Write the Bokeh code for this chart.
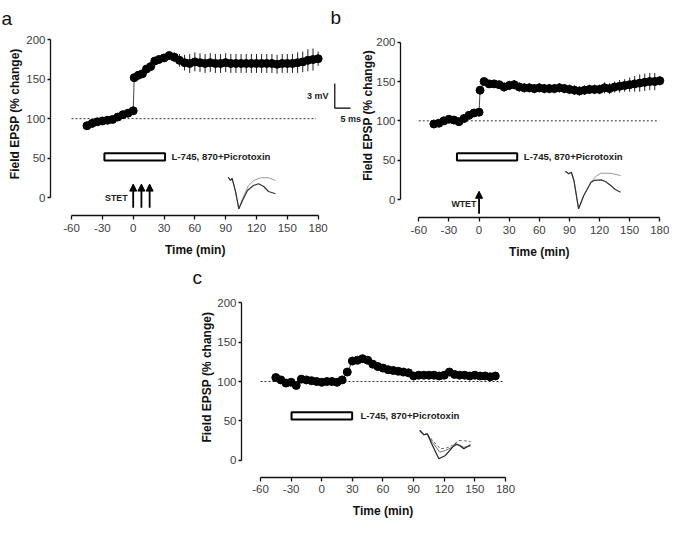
import math
import numpy as np
from bokeh.plotting import figure
from bokeh.models import Range1d, FixedTicker, Label, Arrow, NormalHead, LinearAxis
from bokeh.embed import file_html
from bokeh.resources import INLINE

FONT = "Liberation Sans"

x_ticks = [-60, -30, 0, 30, 60, 90, 120, 150, 180]
x_tick_labels = ["-60", "-30", "0", "30", "60", "90", "120", "150", "180"]
y_ticks = [0, 50, 100, 150, 200]
y_tick_labels = ["0", "50", "100", "150", "200"]
x_title = "Time (min)"
y_title = "Field EPSP (% change)"
drug_label = "L-745, 870+Picrotoxin"
baseline_level = 100
baseline_extent = [-60, 178]

# ---------------- panel a ----------------
time_a = [-45, -40, -35, -30, -25, -20, -15, -10, -5, 0,
          1, 5, 9, 13, 17, 21, 25, 30, 35, 40, 45, 50, 55, 60, 65, 70, 75, 80,
          85, 90, 95, 100, 105, 110, 115, 120, 125, 130, 135, 140, 145, 150,
          155, 160, 165, 170, 175, 180]
fepsp_a = [91, 94, 96, 97, 98, 99, 102, 105, 107, 110,
           152, 155, 157, 163, 166, 173, 175, 177, 180, 178, 174, 171, 170, 172,
           171, 170, 171, 170, 170, 171, 170, 170, 170, 170, 170, 170, 170, 170,
           170, 169, 170, 170, 170, 171, 172, 174, 175, 176]
sem_a = [2, 2, 2, 2, 2, 2, 2, 2, 2, 2,
         3, 3, 3, 3, 3, 4, 4, 4, 5, 6, 8, 10, 12, 12, 12, 12, 12, 12,
         12, 12, 12, 12, 12, 12, 12, 12, 12, 12, 12, 12, 12, 12,
         12, 13, 13, 14, 14, 9]
drug_a = [-28, 31, 47, 56]          # start, end (min), bar bottom, bar top
stet_times = [0, 8, 16]
trace_a_black_t = [92.5, 94.7, 96.3, 99.5, 102.8, 106.4, 111.2, 117, 122, 127, 131.7, 138.5]
trace_a_black_v = [25.7, 21.6, 24.1, 8, -14.3, -3.8, 8.9, 15.2, 17.4, 14, 7.6, 4.7]
trace_a_gray_t = [92.5, 94.7, 96.3, 99.5, 102.8, 106.4, 112.2, 117.4, 123.9, 131.7, 138.5]
trace_a_gray_v = [25.7, 21.6, 24.1, 8, -14.3, -1.3, 15.2, 21.6, 25, 25, 21.6]
scale_bar_t = [196.2, 196.2, 211.5]
scale_bar_v = [144.6, 113.3, 113.3]

# ---------------- panel b ----------------
time_b = [-45, -40, -35, -30, -25, -20, -15, -10, -5, 0,
          1, 5, 10, 15, 20, 25, 30, 35, 40, 45, 50, 55, 60, 65, 70, 75, 80,
          85, 90, 95, 100, 105, 110, 115, 120, 125, 130, 135, 140, 145, 150,
          155, 160, 165, 170, 175, 180]
fepsp_b = [96, 97, 100, 102, 101, 99, 103, 107, 110, 111,
           139, 150, 147, 147, 146, 143, 145, 146, 143, 142, 142, 141, 142, 141,
           141, 141, 142, 141, 140, 139, 138, 139, 140, 140, 140, 142, 141, 143,
           144, 145, 146, 147, 148, 149, 150, 150, 151]
sem_b = [2, 2, 2, 2, 2, 2, 2, 2, 2, 2,
         3, 4, 5, 5, 5, 6, 6, 6, 6, 6, 6, 6, 6, 6, 6, 6, 6,
         6, 6, 6, 6, 6, 6, 6, 6, 7, 7, 7, 8, 8, 9,
         10, 11, 11, 11, 11, 6]
drug_b = [-22, 38, 49.6, 58.9]
wtet_times = [0]
trace_b_black_t = [86, 89.3, 91.9, 94.5, 99.1, 104.3, 111.5, 114.8, 121.3, 125.9, 131.1, 135.7, 140.9]
trace_b_black_v = [36, 32.7, 34.7, 24.2, -11.8, 5.1, 22, 24.2, 25, 22.9, 17.8, 12.7, 9.3]
trace_b_gray_t = [86, 89.3, 91.9, 94.5, 99.1, 104.3, 111.5, 116.1, 121.3, 130.8, 140.9]
trace_b_gray_v = [36, 32.7, 34.7, 24.2, -11.8, 5.1, 22, 29.2, 33.4, 33.4, 30.5]

# ---------------- panel c ----------------
time_c = [-45, -40, -35, -30, -25, -20, -15, -10, -5, 0, 5, 10, 15, 20, 25,
          30, 35, 40, 45, 50, 55, 60, 65, 70, 75, 80, 85, 90, 95, 100, 105,
          110, 115, 120, 125, 130, 135, 140, 145, 150, 155, 160, 165, 170]
fepsp_c = [105, 102, 98, 99, 95, 103, 102, 101, 100, 99, 100, 100, 99, 102, 112,
           126, 127, 129, 127, 122, 119, 117, 115, 114, 113, 112, 111, 107, 108, 108, 108,
           108, 107, 108, 112, 109, 108, 108, 107, 108, 107, 107, 106, 107]
drug_c = [-29.6, 29.8, 51.7, 61]
trace_c_black_t = [96, 100, 103.3, 108.5, 114.7, 121.2, 127.8, 131, 135, 139.2, 145.7]
trace_c_black_v = [37.7, 32.3, 33.5, 18.7, 1.8, 6, 16.1, 20.8, 18.7, 14.5, 19.6]
trace_c_gray_t = [96, 100, 103.3, 108.5, 115.6, 121.2, 127.8, 133, 139.2, 145.7]
trace_c_gray_v = [37.7, 32.3, 33.5, 22.5, 10.2, 12.3, 16.5, 20, 16.5, 17.8]
trace_c_dash_t = [96, 100, 103.3, 108.5, 116.3, 122.2, 128, 134.3, 139.8, 145.7]
trace_c_dash_v = [37.7, 32.3, 33.5, 25, 14.5, 15.5, 18.7, 25, 24.7, 23.8]

# ---------------- layout (canvas pixels) ----------------
W, H = 669, 518
# canvas_x = x0 + sx * time ; canvas_y = y0 - sy * value
geo = {
    "a": dict(x0=132.7, sx=1.0275, y0=197.0, sy=0.7885, yaxis_px=50.0, xaxis_px=215.0),
    "b": dict(x0=478.55, sx=1.00417, y0=199.0, sy=0.7865, yaxis_px=400.0, xaxis_px=217.3),
    "c": dict(x0=321.25, sx=1.0208, y0=459.7, sy=0.787, yaxis_px=241.0, xaxis_px=476.7),
}

p = figure(width=W, height=H, x_range=Range1d(0, W), y_range=Range1d(H, 0),
           x_axis_type=None, y_axis_type=None, title=None,
           output_backend="svg", toolbar_location=None, min_border=0)
p.outline_line_color = None
p.background_fill_color = "white"
p.border_fill_color = "white"

p.extra_x_ranges = {k: Range1d((0 - g["x0"]) / g["sx"], (W - g["x0"]) / g["sx"])
                    for k, g in geo.items()}
p.extra_y_ranges = {k: Range1d((g["y0"] - H) / g["sy"], (g["y0"] - 0) / g["sy"])
                    for k, g in geo.items()}


def style_axis(ax, ticks, labels, tick_out, standoff):
    ax.ticker = FixedTicker(ticks=ticks)
    ax.major_label_overrides = {t: l for t, l in zip(ticks, labels)}
    ax.bounds = (ticks[0], ticks[-1])
    ax.axis_line_color = "#111111"
    ax.axis_line_width = 1.3
    ax.major_tick_line_color = "#111111"
    ax.major_tick_line_width = 1.3
    ax.major_tick_out = tick_out
    ax.major_tick_in = 0
    ax.minor_tick_line_color = None
    ax.major_label_text_font = FONT
    ax.major_label_text_font_size = "11.5px"
    ax.major_label_text_color = "#404040"
    ax.major_label_standoff = standoff


def add_axes(name):
    g = geo[name]
    xa = LinearAxis(x_range_name=name, y_range_name=name,
                    fixed_location=(g["y0"] - g["xaxis_px"]) / g["sy"])
    style_axis(xa, x_ticks, x_tick_labels, 4, 4)
    p.add_layout(xa, "below")
    ya = LinearAxis(x_range_name=name, y_range_name=name,
                    fixed_location=(g["yaxis_px"] - g["x0"]) / g["sx"])
    style_axis(ya, y_ticks, y_tick_labels, 3, 2)
    p.add_layout(ya, "left")


def add_series(name, t, v, sem=None):
    kw = dict(x_range_name=name, y_range_name=name)
    p.line(baseline_extent, [baseline_level, baseline_level], line_color="#333333",
           line_width=1, line_dash="2 2", **kw)
    p.line(t, v, line_color="#444444", line_width=1, **kw)
    if sem is not None:
        t_arr = np.array(t, dtype=float)
        v_arr = np.array(v, dtype=float)
        e_arr = np.array(sem, dtype=float)
        p.segment(x0=t_arr, y0=v_arr - e_arr, x1=t_arr, y1=v_arr + e_arr,
                  line_color="#222222", line_width=1, **kw)
    p.scatter(t, v, size=8, fill_color="black", line_color="black", **kw)


def add_drug(name, bar):
    p.quad(left=[bar[0]], right=[bar[1]], bottom=[bar[2]], top=[bar[3]],
           fill_color="white", line_color="black", line_width=2,
           x_range_name=name, y_range_name=name)


def add_arrows(name, times, y_from, y_to):
    for t in times:
        p.add_layout(Arrow(end=NormalHead(size=7, fill_color="black", line_color="black"),
                           x_start=t, y_start=y_from, x_end=t, y_end=y_to,
                           line_color="black", line_width=1.8,
                           x_range_name=name, y_range_name=name))


def trace(name, t, v, color, width, dash="solid"):
    p.line(t, v, line_color=color, line_width=width, line_dash=dash,
           x_range_name=name, y_range_name=name)


def text(x, y, s, size, bold=True, align="left", baseline="middle", angle=0.0, color="#222222"):
    p.add_layout(Label(x=x, y=y, text=s, text_font=FONT,
                       text_font_style="bold" if bold else "normal",
                       text_font_size=size, text_color=color, text_align=align,
                       text_baseline=baseline, angle=angle))


for name in ("a", "b", "c"):
    add_axes(name)

# panel a
add_series("a", time_a, fepsp_a, sem_a)
add_drug("a", drug_a)
add_arrows("a", stet_times, -13, 17)
trace("a", trace_a_gray_t, trace_a_gray_v, "#999999", 1)
trace("a", trace_a_black_t, trace_a_black_v, "#333333", 1.2)
p.line(scale_bar_t, scale_bar_v, line_color="black", line_width=1.2,
       x_range_name="a", y_range_name="a")

# panel b
add_series("b", time_b, fepsp_b, sem_b)
add_drug("b", drug_b)
add_arrows("b", wtet_times, -18, 10.5)
trace("b", trace_b_gray_t, trace_b_gray_v, "#999999", 1)
trace("b", trace_b_black_t, trace_b_black_v, "#333333", 1.2)

# panel c
add_series("c", time_c, fepsp_c)
add_drug("c", drug_c)
trace("c", trace_c_dash_t, trace_c_dash_v, "#666666", 1, "3 2")
trace("c", trace_c_gray_t, trace_c_gray_v, "#777777", 1)
trace("c", trace_c_black_t, trace_c_black_v, "#222222", 1.2)

# texts (canvas pixel positions)
HALF_PI = math.pi / 2
text(14.5, 113.3, y_title, "12px", align="center", angle=HALF_PI, color="#111111")
text(367.5, 115.0, y_title, "12px", align="center", angle=HALF_PI, color="#111111")
text(206.0, 376.7, y_title, "12px", align="center", angle=HALF_PI, color="#111111")
text(194.7, 249.3, x_title, "12px", align="center", color="#111111")
text(538.8, 251.7, x_title, "12px", align="center", color="#111111")
text(382.5, 510.0, x_title, "12px", align="center", color="#111111")

text(171.0, 156.3, drug_label, "9.6px")
text(523.3, 156.0, drug_label, "9.6px")
text(360.0, 415.3, drug_label, "9.6px")

text(127.0, 197.3, "STET", "8.8px", align="right")
text(475.8, 203.3, "WTET", "8.8px", align="right")
text(328.0, 95.0, "3 mV", "9px", align="right")
text(340.0, 118.0, "5 ms", "9px")

text(1.0, 18.3, "a", "19px", bold=False, baseline="alphabetic", color="#111111")
text(330.0, 17.3, "b", "19px", bold=False, baseline="alphabetic", color="#111111")
text(192.0, 276.7, "c", "19px", bold=False, baseline="alphabetic", color="#111111")

open("out.html", "w").write(file_html(p, INLINE))
